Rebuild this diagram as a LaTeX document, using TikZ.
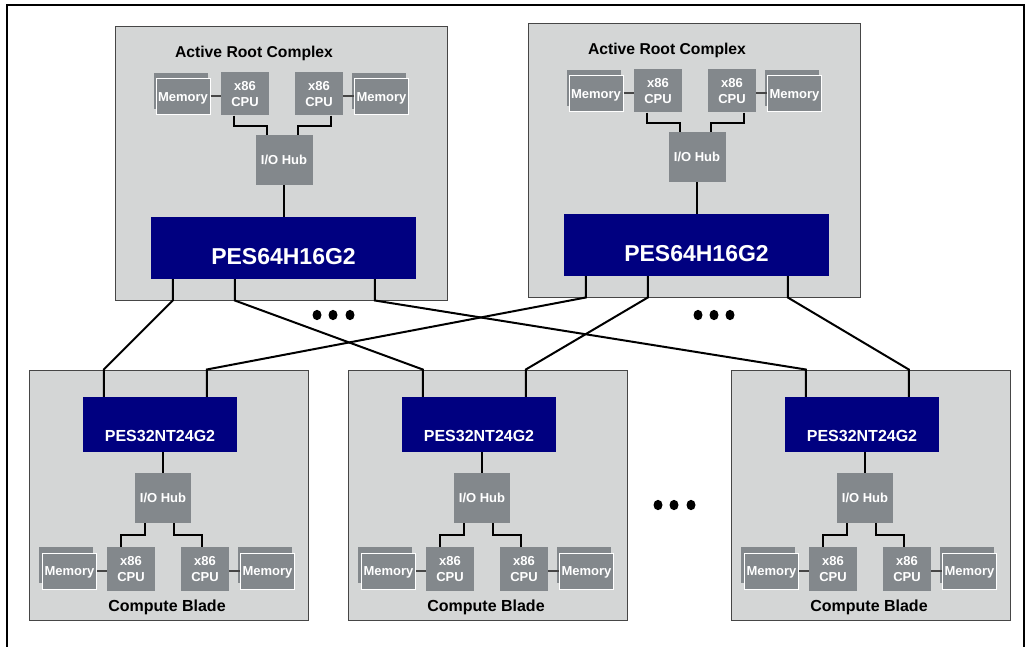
\documentclass[tikz,border=0pt]{standalone}
\usepackage{fontspec}
\setmainfont{Liberation Sans}

\definecolor{boardgrey}{RGB}{212,214,214}
\definecolor{partgrey}{RGB}{131,136,140}
\definecolor{pesblue}{RGB}{0,0,128}
\definecolor{edgegrey}{RGB}{70,70,70}

\tikzset{
  board/.style={draw=edgegrey, fill=boardgrey, line width=1pt},
  part/.style={fill=partgrey, text=white, inner sep=0pt, align=center,
    font=\fontsize{13}{16}\selectfont\bfseries},
  memback/.style={fill=partgrey, inner sep=0pt, minimum width=54, minimum height=36},
  memfront/.style={part, draw=white, line width=1pt, minimum width=54,
    minimum height=36, text height=9.5pt, text depth=0pt},
  cpu/.style={part, minimum width=48, minimum height=43},
  hub/.style={part, minimum width=57, minimum height=50},
  pes/.style={fill=pesblue, text=white, inner sep=0pt, text depth=0pt},
  heading/.style={font=\fontsize{15.7}{18}\selectfont\bfseries},
  wire/.style={draw=black, line width=2pt},
  memwire/.style={draw=edgegrey, line width=2pt}
}

\begin{document}
\begin{tikzpicture}[x=1pt, y=-1pt]

  \useasboundingbox (0,0) rectangle (1027,647);
  \draw[line width=2.5pt] (7,647) -- (7,5) -- (1024,5) -- (1024,647);

  \foreach \r/\dx/\dy in {1/0/0, 2/413/-3} {
    \begin{scope}[shift={(\dx,\dy)}]
      \node[board, minimum width=332, minimum height=273] (r\r) at (281.5,163.5) {};
      \node[heading] (r\r-title) at (254,53) {Active Root Complex};
      \node[memback] (r\r-mema-bg) at (180.5,91) {};
      \node[memfront] (r\r-mema) at (183,96.5) {Memory};
      \node[memback] (r\r-memb-bg) at (378.5,91) {};
      \node[memfront] (r\r-memb) at (381.5,96.5) {Memory};
      \node[cpu] (r\r-cpua) at (245,94) {x86\\CPU};
      \node[cpu] (r\r-cpub) at (319,94) {x86\\CPU};
      \node[hub] (r\r-hub) at (284,160) {I/O Hub};
      \node[pes, minimum width=265, minimum height=62, text height=33pt,
        font=\fontsize{23}{26}\selectfont\bfseries] (r\r-pes) at (283.5,248) {PES64H16G2};
      \coordinate (r\r-p1) at ([xshift=22]r\r-pes.south west);
      \coordinate (r\r-p2) at ([xshift=84]r\r-pes.south west);
      \coordinate (r\r-p3) at ([xshift=224]r\r-pes.south west);

      \path[memwire] (r\r-mema.east) -- (r\r-mema.east -| r\r-cpua.west);
      \path[memwire] (r\r-memb.west) -- (r\r-memb.west -| r\r-cpub.east);
      \path[wire] ([xshift=13]r\r-cpua.south west) -- ++(0,10) -| ([xshift=12]r\r-hub.north west);
      \path[wire] ([xshift=-12]r\r-cpub.south east) -- ++(0,10) -| ([xshift=-15]r\r-hub.north east);
      \path[wire] (r\r-hub.south) -- (r\r-hub.south |- r\r-pes.north);
    \end{scope}
  }

  \foreach \b/\dx in {1/0, 2/319, 3/702} {
    \begin{scope}[shift={(\dx,0)}]
      \node[board, minimum width=279, minimum height=250] (b\b) at (168.5,495) {};
      \node[pes, minimum width=154, minimum height=55, text height=33.5pt,
        font=\fontsize{16}{19}\selectfont\bfseries] (b\b-pes) at (160,424.5) {PES32NT24G2};
      \node[hub, minimum width=56] (b\b-hub) at (163,498) {I/O Hub};
      \node[cpu, minimum height=44] (b\b-cpua) at (131,569) {x86\\CPU};
      \node[cpu, minimum height=44] (b\b-cpub) at (205,569) {x86\\CPU};
      \node[memback] (b\b-mema-bg) at (66,565) {};
      \node[memfront] (b\b-mema) at (69.5,571) {Memory};
      \node[memback] (b\b-memb-bg) at (264.5,565) {};
      \node[memfront] (b\b-memb) at (267.5,571) {Memory};
      \node[heading, font=\fontsize{16}{18}\selectfont\bfseries] (b\b-title) at (167,607) {Compute Blade};
      \coordinate (b\b-p1) at ([xshift=21]b\b-pes.north west);
      \coordinate (b\b-p2) at ([xshift=124]b\b-pes.north west);

      \path[memwire] (b\b-mema.east) -- (b\b-mema.east -| b\b-cpua.west);
      \path[memwire] (b\b-memb.west) -- (b\b-memb.west -| b\b-cpub.east);
      \path[wire] (b\b-hub.north) -- (b\b-hub.north |- b\b-pes.south);
      \path[wire] ([xshift=10]b\b-hub.south west) -- ++(0,12) -| ([xshift=14]b\b-cpua.north west);
      \path[wire] ([xshift=-17]b\b-hub.south east) -- ++(0,12) -| ([xshift=21]b\b-cpub.north west);
    \end{scope}
  }

  \path[wire] (r1-p1) -- (r1-p1 |- r1.south) -- (b1-p1 |- b1.north) -- (b1-p1);
  \path[wire] (r1-p2) -- (r1-p2 |- r1.south) -- (b2-p1 |- b2.north) -- (b2-p1);
  \path[wire] (r1-p3) -- (r1-p3 |- r1.south) -- (b3-p1 |- b3.north) -- (b3-p1);
  \path[wire] (r2-p1) -- (r2-p1 |- r2.south) -- (b1-p2 |- b1.north) -- (b1-p2);
  \path[wire] (r2-p2) -- (r2-p2 |- r2.south) -- (b2-p2 |- b2.north) -- (b2-p2);
  \path[wire] (r2-p3) -- (r2-p3 |- r2.south) -- (b3-p2 |- b3.north) -- (b3-p2);

  \foreach \x/\y in {317/315, 333/315, 350/315, 698/315, 714/315, 730/315, 658/505, 674/505, 691/505}
    \fill (\x,\y) ellipse (4.5 and 5.2);

\end{tikzpicture}
\end{document}
